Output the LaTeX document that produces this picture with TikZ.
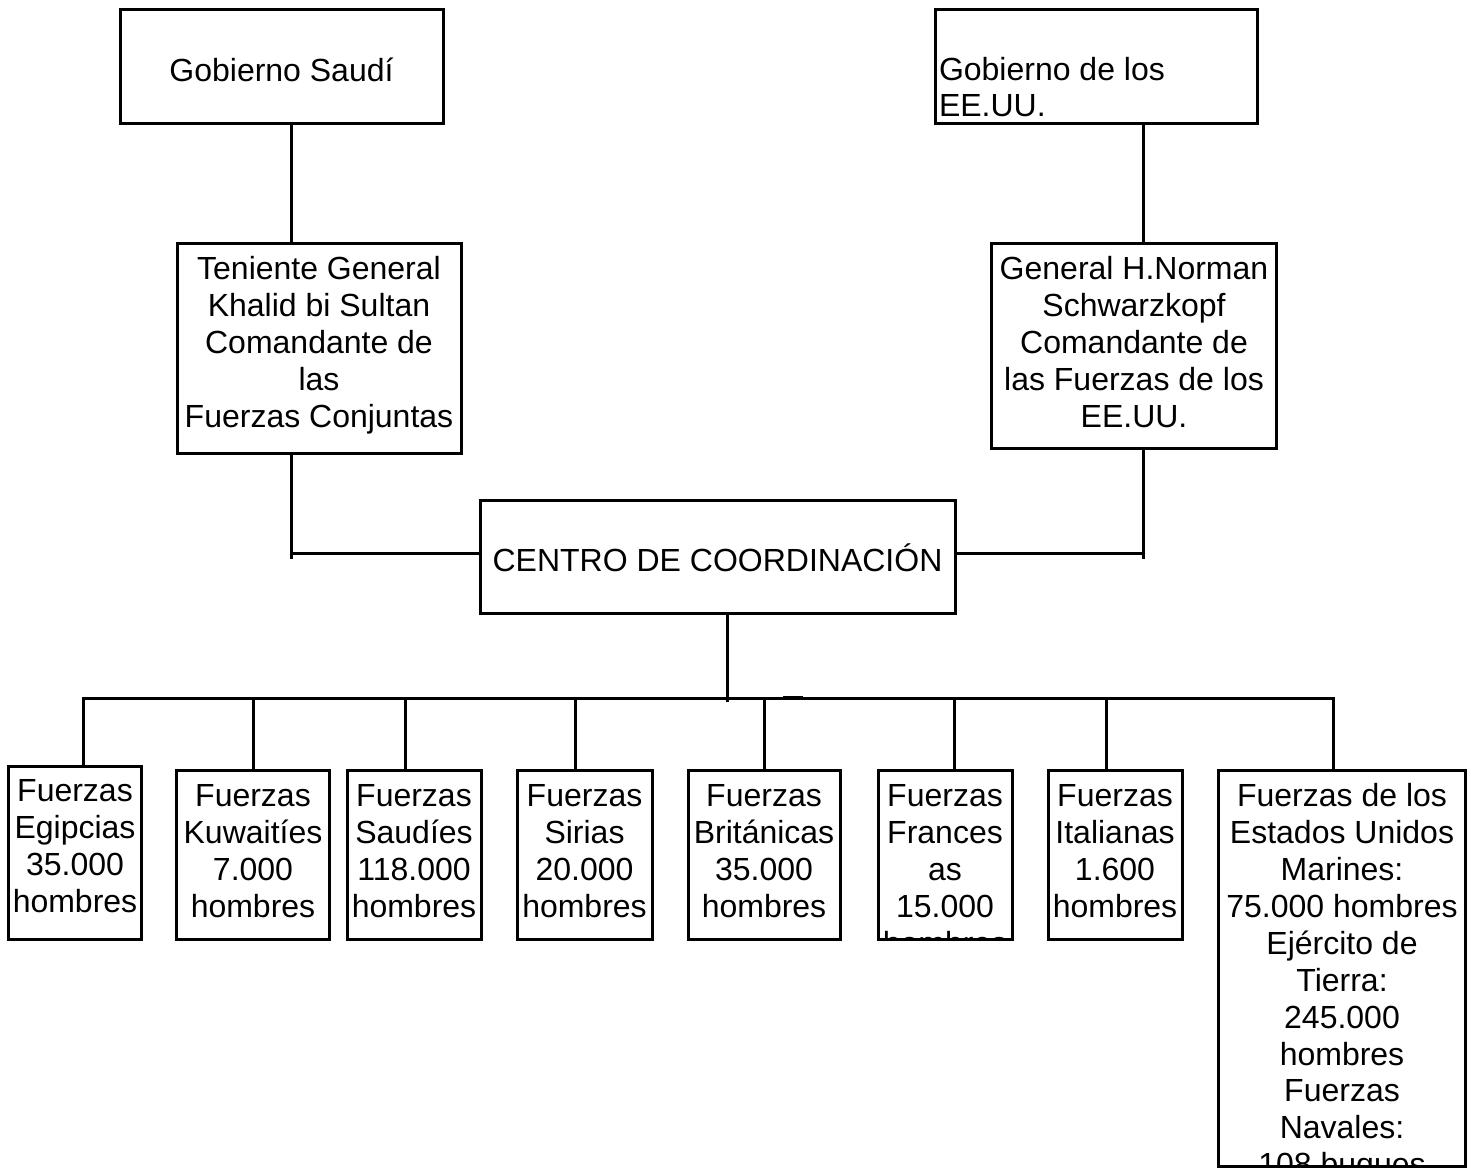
\documentclass[tikz,border=0pt]{standalone}
\usepackage{fontspec}
\setmainfont{Liberation Sans}
\begin{document}
\begin{tikzpicture}[x=1pt,y=-1pt,
  box/.style={draw, line width=3pt, inner sep=0pt, outer sep=0pt},
  txt/.style={inner sep=0pt, outer sep=0pt, align=center, font=\fontsize{32}{37}\selectfont},
  conn/.style={line width=3pt}]
\useasboundingbox (0,0) rectangle (1471,1169);
% boxes
\node[box, minimum width=323pt, minimum height=114pt] (gs)  at (281.5,67) {};
\node[box, minimum width=322pt, minimum height=114pt] (geu) at (1096,67) {};
\node[box, minimum width=284pt, minimum height=210pt] (ten) at (319,348) {};
\node[box, minimum width=285pt, minimum height=205pt] (sch) at (1133.5,345.5) {};
\node[box, minimum width=475pt, minimum height=113pt] (cc)  at (717.5,556.5) {};
\node[box, minimum width=133pt, minimum height=173pt] (eg) at (74.5,852.5) {};
\node[box, minimum width=153pt, minimum height=169pt] (kw) at (253,854.5) {};
\node[box, minimum width=134pt, minimum height=169pt] (sa) at (414,854.5) {};
\node[box, minimum width=135pt, minimum height=169pt] (si) at (584.5,854.5) {};
\node[box, minimum width=152pt, minimum height=169pt] (br) at (764,854.5) {};
\node[box, minimum width=134pt, minimum height=169pt] (fr) at (945,854.5) {};
\node[box, minimum width=134pt, minimum height=169pt] (it) at (1115,854.5) {};
\node[box, minimum width=247pt, minimum height=396pt] (us) at (1342,968) {};
% texts
\node[txt, anchor=base] (gst) at (281.5,82) {Gobierno Saudí};
\node[txt, anchor=base west] (geut1) at (939,81) {Gobierno de los};
\node[txt, anchor=base west] (geut2) at (939,117) {EE.UU.};
\node[txt, anchor=north] (tent) at (319,256.5) {Teniente General\\Khalid bi Sultan\\Comandante de\\las\\Fuerzas Conjuntas};
\node[txt, anchor=north] (scht) at (1134,256) {General H.Norman\\Schwarzkopf\\Comandante de\\las Fuerzas de los\\EE.UU.};
\node[txt, anchor=base] (cct) at (717.5,571) {CENTRO DE COORDINACIÓN};
\node[txt, anchor=north] (egt) at (75,779) {Fuerzas\\Egipcias\\35.000\\hombres};
\node[txt, anchor=north] (kwt) at (253,784) {Fuerzas\\Kuwaitíes\\7.000\\hombres};
\node[txt, anchor=north] (sat) at (414,784) {Fuerzas\\Saudíes\\118.000\\hombres};
\node[txt, anchor=north] (sit) at (584.5,784) {Fuerzas\\Sirias\\20.000\\hombres};
\node[txt, anchor=north] (brt) at (764,784) {Fuerzas\\Británicas\\35.000\\hombres};
\begin{scope}
  \clip (fr.south west) rectangle (fr.north east);
  \node[txt, anchor=north] (frt) at (945,784) {Fuerzas\\Frances\\as\\15.000\\hombres};
\end{scope}
\node[txt, anchor=north] (itt) at (1115,784) {Fuerzas\\Italianas\\1.600\\hombres};
\begin{scope}
  \clip (us.south west) rectangle (us.north east);
  \node[txt, anchor=north, font=\fontsize{32}{36.9}\selectfont] (ust) at (1342,783.5) {Fuerzas de los\\Estados Unidos\\Marines:\\75.000 hombres\\Ejército de\\Tierra:\\245.000\\hombres\\Fuerzas\\Navales:\\108 buques};
\end{scope}
% connector coordinates
\coordinate (c1) at (291,0);
\coordinate (c2) at (1143,0);
\coordinate (jL) at (291,553);
\coordinate (jR) at (1143,553);
\coordinate (tickL) at (291,559);
\coordinate (tickR) at (1143,559);
\coordinate (cd) at (727,702);
\coordinate (busL) at (83,698.5);
\coordinate (busR) at (1333,698.5);
\coordinate (dA) at (783,697.5);
\coordinate (dB) at (803,697.5);
% top connectors
\draw[conn] (c1 |- gs.south) -- (c1 |- ten.north);
\draw[conn] (c2 |- geu.south) -- (c2 |- sch.north);
\draw[conn] (c1 |- ten.south) -- (tickL);
\draw[conn] (c2 |- sch.south) -- (tickR);
\draw[conn] (jL) -- (jL -| cc.west);
\draw[conn] (jR -| cc.east) -- (jR);
% bus
\draw[conn] (cc.south -| cd) -- (cd);
\draw[conn] (eg.north -| busL) -- (busL) -- (busR) -- (busR |- us.north);
\draw[line width=3.6pt] (dA) -- (dB);
\foreach \n/\x in {kw/253, sa/405, si/575, br/764, fr/954, it/1106}{
  \draw[conn] (\x,698.5) -- (\n.north -| {(\x,0)});
}
\end{tikzpicture}
\end{document}
